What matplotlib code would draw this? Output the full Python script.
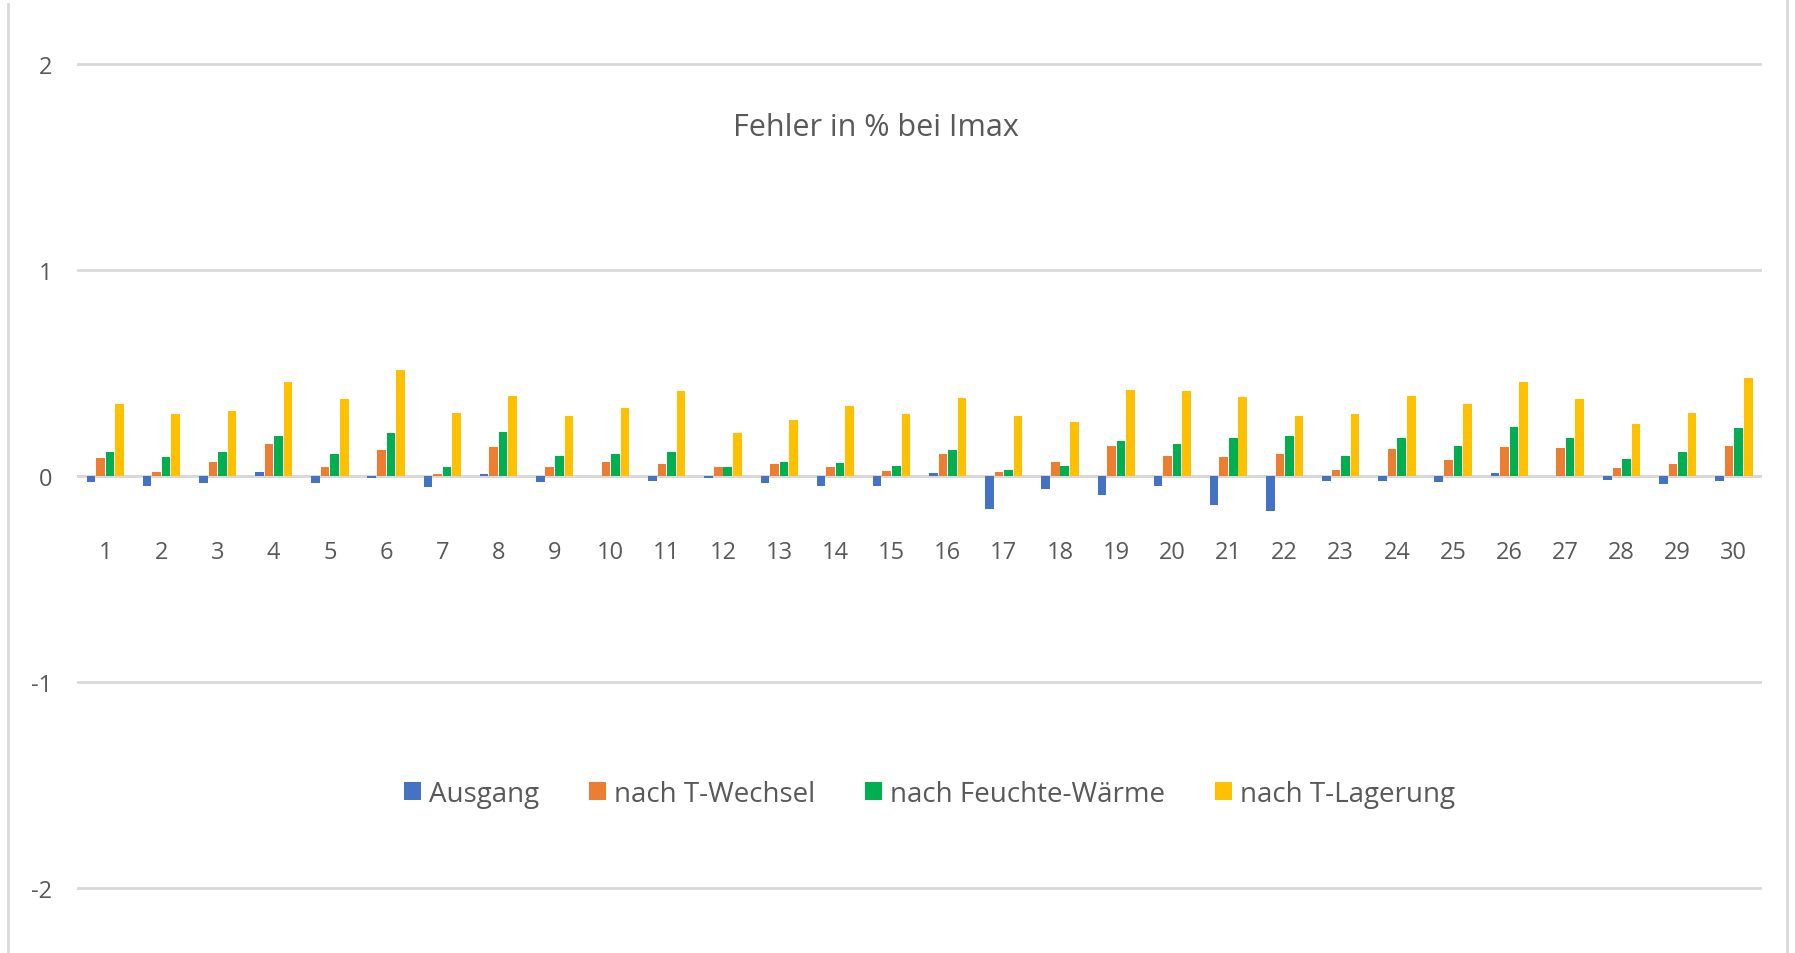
import numpy as np
import matplotlib.pyplot as plt
from matplotlib.lines import Line2D

plt.rcParams['font.family'] = ['Open Sans', 'DejaVu Sans']

# Messpunkte 1..30
kategorien = [str(i) for i in range(1, 31)]

ausgang = [-0.03, -0.05, -0.035, 0.02, -0.035, -0.01, -0.055, 0.01, -0.03, 0.0,
           -0.025, -0.01, -0.035, -0.05, -0.05, 0.013, -0.158, -0.065, -0.09, -0.048,
           -0.142, -0.171, -0.025, -0.025, -0.03, 0.013, 0.0, -0.02, -0.04, -0.025]
t_wechsel = [0.087, 0.018, 0.07, 0.153, 0.045, 0.124, 0.01, 0.139, 0.045, 0.07,
             0.057, 0.045, 0.057, 0.045, 0.026, 0.107, 0.018, 0.07, 0.147, 0.099,
             0.094, 0.107, 0.031, 0.131, 0.078, 0.139, 0.134, 0.04, 0.057, 0.144]
feuchte_waerme = [0.118, 0.094, 0.118, 0.192, 0.107, 0.207, 0.045, 0.215, 0.099, 0.107,
                  0.118, 0.045, 0.07, 0.061, 0.048, 0.124, 0.031, 0.048, 0.168, 0.155,
                  0.186, 0.192, 0.099, 0.183, 0.144, 0.236, 0.183, 0.082, 0.118, 0.231]
t_lagerung = [0.349, 0.30, 0.317, 0.454, 0.373, 0.514, 0.305, 0.389, 0.292, 0.33,
              0.414, 0.207, 0.27, 0.34, 0.30, 0.378, 0.292, 0.263, 0.418, 0.414,
              0.383, 0.289, 0.30, 0.389, 0.347, 0.457, 0.373, 0.252, 0.305, 0.473]

serien = ['Ausgang', 'nach T-Wechsel', 'nach Feuchte-Wärme', 'nach T-Lagerung']
farben = ['#4472C4', '#ED7D31', '#00B050', '#FFC000']
werte = [ausgang, t_wechsel, feuchte_waerme, t_lagerung]

textfarbe = '#595959'
gitterfarbe = '#d9d9d9'

fig = plt.figure(figsize=(17.95, 9.54), dpi=100)
ax = fig.add_axes([0.043, 0.046, 0.9386, 0.908])

x = np.arange(1, len(kategorien) + 1)
slot = 0.17
for i, (name, farbe, y) in enumerate(zip(serien, farben, werte)):
    ax.bar(x + (i - 1.5) * slot, y, width=slot * 0.9, color=farbe, label=name, zorder=3)

ax.set_xlim(0.5, 30.5)
ax.set_ylim(-2.1, 2.1)
ax.set_yticks([-2, -1, 0, 1, 2])
ax.set_yticklabels(['-2', '-1', '0', '1', '2'])
ax.tick_params(axis='y', length=0, pad=18, labelsize=17, labelcolor=textfarbe)
ax.set_xticks([])
for s in ax.spines.values():
    s.set_visible(False)
ax.grid(axis='y', color=gitterfarbe, linewidth=2, zorder=0)
ax.axhline(0, color='#d0d4dc', linewidth=2, zorder=1)

# Kategorienbeschriftung unterhalb der Nulllinie
for xi, lab in zip(x, kategorien):
    ax.text(xi, -0.37, lab, ha='center', va='center', fontsize=17, color=textfarbe)

fig.text(0.488, 0.866, 'Fehler in % bei Imax', ha='center', va='center',
         fontsize=22, color=textfarbe)

fig.legend(loc='center', bbox_to_anchor=(0.518, 0.167), ncol=4, frameon=False,
           fontsize=20, handlelength=0.6, handleheight=0.6, handletextpad=0.3,
           columnspacing=1.8, labelcolor=textfarbe)

# Rahmenlinien links und rechts
fig.add_artist(Line2D([0.0045, 0.0045], [0, 0.995], color=gitterfarbe, linewidth=2))
fig.add_artist(Line2D([0.9955, 0.9955], [0, 1], color=gitterfarbe, linewidth=2))

fig.savefig('out.png', dpi=100, facecolor='white')
